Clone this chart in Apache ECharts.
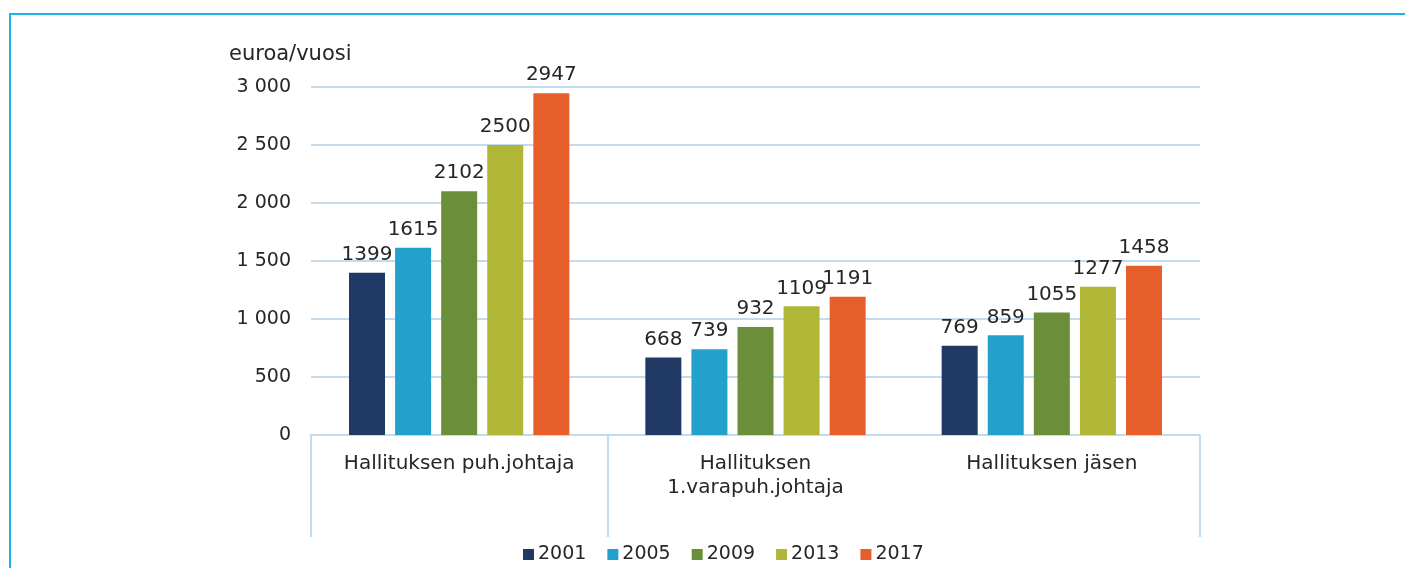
<!DOCTYPE html>
<html>
<head>
<meta charset="utf-8">
<script src="https://cdn.jsdelivr.net/npm/echarts@6/dist/echarts.min.js"></script>
<style>
  html, body { margin: 0; padding: 0; background: #fff; }
  .frame {
    position: absolute; left: 9px; top: 13px; width: 1500px; height: 600px;
    border-top: 2px solid #1cb5ea; border-left: 2px solid #1cb5ea;
  }
  #chart { position: absolute; left: 0; top: 0; width: 1405px; height: 568px; }
</style>
</head>
<body>
<div class="frame"></div>
<div id="chart"></div>
<script>
// kategoriat ja vuodet
const categories = ['Hallituksen puh.johtaja', 'Hallituksen\n1.varapuh.johtaja', 'Hallituksen jäsen']
const years = ['2001', '2005', '2009', '2013', '2017']
const colors = ['#1f3864', '#23a0cb', '#6b8e3a', '#b0b736', '#e65f2b']
// arvot euroa/vuosi
const v2001 = [1399, 668, 769]
const v2005 = [1615, 739, 859]
const v2009 = [2102, 932, 1055]
const v2013 = [2500, 1109, 1277]
const v2017 = [2947, 1191, 1458]
const values = [v2001, v2005, v2009, v2013, v2017]

const chart = echarts.init(document.getElementById('chart'))
const font = 'DejaVu Sans, Verdana, sans-serif'
const textColor = '#262626'

const option = {
  animation: false,
  textStyle: { fontFamily: font },
  title: {
    text: 'euroa/vuosi',
    left: 224,
    top: 39,
    textStyle: { fontFamily: font, fontSize: 21, fontWeight: 'normal', color: textColor }
  },
  legend: {
    data: years,
    left: 518,
    top: 540,
    itemWidth: 11,
    itemHeight: 11,
    itemGap: 21,
    icon: 'rect',
    textStyle: { fontFamily: font, fontSize: 19, color: textColor, padding: [0, 0, 0, -1] }
  },
  grid: { left: 311, right: 205, top: 87, bottom: 133 },
  xAxis: {
    type: 'category',
    data: categories,
    axisLine: { lineStyle: { color: '#c3dbef', width: 2 } },
    axisTick: {
      show: true,
      length: 102,
      interval: (idx) => idx !== 2,
      lineStyle: { color: '#c3dbef', width: 2 }
    },
    axisLabel: {
      interval: 0,
      fontFamily: font, fontSize: 20, color: textColor, margin: 17, lineHeight: 24
    }
  },
  yAxis: {
    type: 'value',
    min: 0,
    max: 3000,
    interval: 500,
    axisLine: { show: false },
    axisTick: { show: false },
    splitLine: { lineStyle: { color: '#c3dbef', width: 2 } },
    axisLabel: {
      fontFamily: font, fontSize: 19, color: textColor, margin: 20,
      formatter: (v) => String(v).replace(/\B(?=(\d{3})+(?!\d))/g, ' ')
    }
  },
  series: years.map((y, i) => ({
    name: y,
    type: 'bar',
    data: values[i],
    barWidth: 36,
    barGap: '28%',
    itemStyle: { color: colors[i] },
    label: {
      show: true, position: 'top', distance: 8,
      fontFamily: font, fontSize: 20, color: textColor
    }
  }))
}
chart.setOption(option)
</script>
</body>
</html>
